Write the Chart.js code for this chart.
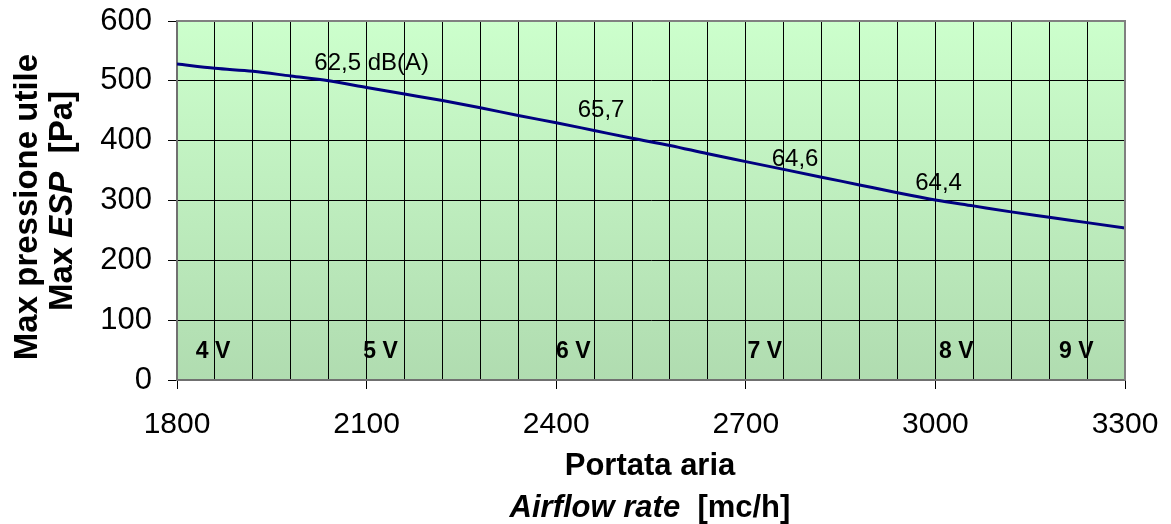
<!DOCTYPE html>
<html>
<head>
<meta charset="utf-8">
<script src="https://cdn.jsdelivr.net/npm/chart.js@4.4.1/dist/chart.umd.min.js"></script>
<style>
  html, body { margin: 0; padding: 0; background: #ffffff; }
  #wrap { width: 1171px; height: 524px; }
</style>
</head>
<body>
<div id="wrap"><canvas id="chart" width="1171" height="524"></canvas></div>
<script>
// Airflow rate [mc/h] and max external static pressure [Pa]
const airflow = [1800, 1860, 1920, 1980, 2040, 2100, 2160, 2220, 2280, 2340, 2400, 2460, 2520,
                 2580, 2640, 2700, 2760, 2820, 2880, 2940, 3000, 3060, 3120, 3180, 3240, 3300];
const pressure = [528, 521, 516, 508, 500, 489, 478, 467, 455, 442, 430, 417, 404,
                  392, 378, 365, 352, 339, 326, 313, 301, 291, 281, 272, 263, 254];

// Sound level notes along the curve
const noiseText = ['62,5 dB(A)', '65,7', '64,6', '64,4'];
const noiseX = [2108, 2471, 2778, 3005];
const noiseY = [530, 450, 368, 329];

// Fan speed steps
const speedText = ['4 V', '5 V', '6 V', '7 V', '8 V', '9 V'];
const speedX = [1857, 2122, 2427, 2730, 3033, 3223];
const speedY = [47.5, 47.5, 47.5, 47.5, 47.5, 47.5];

// Axis ranges and labelled ticks
const xMin = 1800, xMax = 3300, xGridStep = 60, xLabelStep = 300;
const yMin = 0, yMax = 600, yStep = 100;

const FONT = '"Liberation Sans", Arial, Helvetica, sans-serif';

const plotBackground = {
  id: 'plotBackground',
  beforeDraw(chart) {
    const { ctx, chartArea: { left, top, right, bottom } } = chart;
    const g = ctx.createLinearGradient(0, top, 0, bottom);
    g.addColorStop(0, '#ccffcc');
    g.addColorStop(1, '#b0dcb0');
    ctx.save();
    ctx.fillStyle = g;
    ctx.fillRect(left, top, right - left, bottom - top);
    ctx.restore();
  },
  afterDraw(chart) {
    const { ctx, chartArea: { left, top, right, bottom } } = chart;
    ctx.save();
    ctx.strokeStyle = '#808080';
    ctx.lineWidth = 2;
    ctx.beginPath();
    ctx.moveTo(left, top);
    ctx.lineTo(right, top);
    ctx.lineTo(right, bottom);
    ctx.stroke();
    ctx.restore();
  }
};

const plotNotes = {
  id: 'plotNotes',
  afterDatasetsDraw(chart) {
    const { ctx, scales: { x, y } } = chart;
    ctx.save();
    ctx.fillStyle = '#000';
    ctx.textAlign = 'center';
    ctx.textBaseline = 'middle';
    ctx.font = '24px ' + FONT;
    noiseText.forEach((t, i) => {
      ctx.fillText(t, x.getPixelForValue(noiseX[i]), y.getPixelForValue(noiseY[i]));
    });
    ctx.font = 'bold 23px ' + FONT;
    speedText.forEach((t, i) => {
      ctx.fillText(t, x.getPixelForValue(speedX[i]), y.getPixelForValue(speedY[i]));
    });
    ctx.restore();
  }
};

// Draws a line made of differently styled pieces, centred on cx
function drawRuns(ctx, runs, cx, baseline) {
  let total = 0;
  runs.forEach(r => { ctx.font = r.font; total += ctx.measureText(r.text).width; });
  let xPos = cx - total / 2;
  ctx.textAlign = 'left';
  ctx.textBaseline = 'alphabetic';
  runs.forEach(r => {
    ctx.font = r.font;
    ctx.fillText(r.text, xPos, baseline);
    xPos += ctx.measureText(r.text).width;
  });
}

const axisTitles = {
  id: 'axisTitles',
  afterDraw(chart) {
    const { ctx } = chart;
    ctx.save();
    ctx.fillStyle = '#000';
    const bx = 'bold 31px ' + FONT;
    const bix = 'italic bold 31px ' + FONT;
    drawRuns(ctx, [{ text: 'Portata aria', font: bx }], 650, 475);
    drawRuns(ctx, [{ text: 'Airflow rate', font: bix }, { text: '  [mc/h]', font: bx }], 650, 517);

    const by = 'bold 33px ' + FONT;
    const biy = 'italic bold 33px ' + FONT;
    ctx.save();
    ctx.translate(37, 207);
    ctx.rotate(-Math.PI / 2);
    drawRuns(ctx, [{ text: 'Max pressione utile', font: by }], 0, 0);
    ctx.restore();
    ctx.save();
    ctx.translate(72, 201);
    ctx.rotate(-Math.PI / 2);
    drawRuns(ctx, [{ text: 'Max ', font: by }, { text: 'ESP', font: biy }, { text: '  [Pa]', font: by }], 0, 0);
    ctx.restore();
    ctx.restore();
  }
};

new Chart(document.getElementById('chart'), {
  type: 'line',
  data: {
    datasets: [{
      data: airflow.map((v, i) => ({ x: v, y: pressure[i] })),
      borderColor: '#000080',
      borderWidth: 3,
      pointRadius: 0,
      tension: 0.4,
      cubicInterpolationMode: 'monotone',
      fill: false
    }]
  },
  options: {
    responsive: false,
    animation: false,
    devicePixelRatio: 1,
    layout: { padding: { top: 21, right: 46, left: 0, bottom: 0 } },
    plugins: { legend: { display: false }, tooltip: { enabled: false } },
    scales: {
      x: {
        type: 'linear',
        min: xMin, max: xMax,
        afterFit: s => { s.height = 144; s.paddingLeft = 0; s.paddingRight = 0; },
        ticks: {
          stepSize: xGridStep,
          autoSkip: false,
          maxRotation: 0,
          padding: 18,
          color: '#000',
          font: { family: FONT, size: 30 },
          callback: v => (v % xLabelStep === 0 ? String(v) : '')
        },
        grid: {
          color: '#000',
          lineWidth: 1,
          tickLength: 9,
          tickColor: c => (c.tick && c.tick.value % xLabelStep === 0 ? '#000' : 'rgba(0,0,0,0)')
        },
        border: { display: true, color: '#707070', width: 2 }
      },
      y: {
        min: yMin, max: yMax,
        afterFit: s => { s.width = 177; s.paddingTop = 0; s.paddingBottom = 0; },
        ticks: {
          stepSize: yStep,
          padding: 16,
          color: '#000',
          font: { family: FONT, size: 31 }
        },
        grid: { color: '#000', lineWidth: 1, tickLength: 9, tickColor: '#000' },
        border: { display: true, color: '#707070', width: 2 }
      }
    }
  },
  plugins: [plotBackground, plotNotes, axisTitles]
});
</script>
</body>
</html>
